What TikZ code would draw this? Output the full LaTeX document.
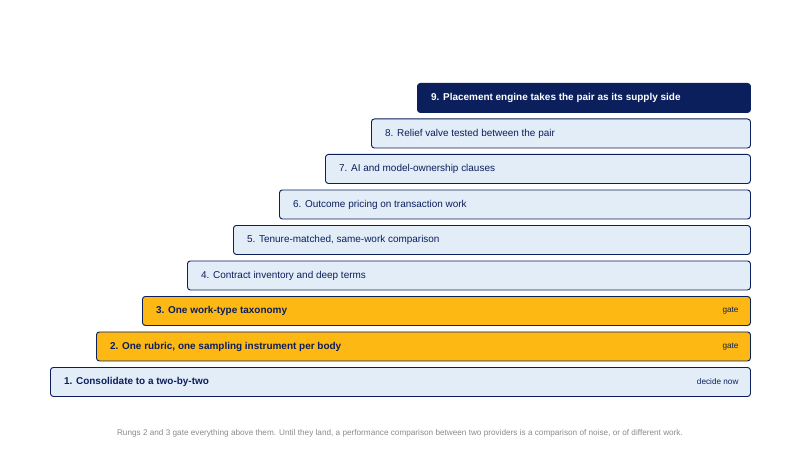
\documentclass[tikz,border=0pt]{standalone}
\usepackage{fontspec}
\setmainfont{Liberation Sans}
\usetikzlibrary{positioning}
\definecolor{navy}{HTML}{0B1F5C}
\definecolor{pale}{HTML}{E3EDF8}
\definecolor{amber}{HTML}{FDB813}
\definecolor{note}{HTML}{8A8A8A}
\begin{document}
\begin{tikzpicture}[x=0.03cm,y=-0.03cm,
   rung/.style={draw=navy,line width=0.8pt,rounded corners=2.5pt,fill=pale,
     anchor=north west,inner sep=0pt,minimum height=0.87cm},
   gate/.style={rung,fill=amber},
   top/.style={rung,fill=navy},
   txt/.style={anchor=west,font=\fontsize{8.5}{10}\selectfont,text=navy},
   tag/.style={anchor=east,font=\fontsize{7}{8}\selectfont,text=navy}]
   \useasboundingbox (0,0) rectangle (800,450);

   % rungs: index / left edge / style / label / tag
   \foreach \i/\x/\s/\lab/\tg in {
      1/50/rung/{\textbf{1. Consolidate to a two-by-two}}/{decide now},
      2/96/gate/{\textbf{2. One rubric, one sampling instrument per body}}/gate,
      3/142/gate/{\textbf{3. One work-type taxonomy}}/gate,
      4/187/rung/{4. Contract inventory and deep terms}/{},
      5/233/rung/{5. Tenure-matched, same-work comparison}/{},
      6/279/rung/{6. Outcome pricing on transaction work}/{},
      7/325/rung/{7. AI and model-ownership clauses}/{},
      8/371/rung/{8. Relief valve tested between the pair}/{}}{
     \pgfmathsetmacro{\yy}{367-35.5*(\i-1)}
     \node[\s,minimum width={(750-\x)*0.03cm}] (r\i) at (\x,\yy) {};
     \node[txt] (l\i) at ([xshift=0.3cm]r\i.west) {\lab};
     \node[tag] (t\i) at ([xshift=-0.25cm]r\i.east) {\tg};
   }
   \node[top,minimum width={(750-417)*0.03cm}] (r9) at (417,83) {};
   \node[txt,text=white] (l9) at ([xshift=0.3cm]r9.west)
     {\textbf{9. Placement engine takes the pair as its supply side}};

   \node[font=\fontsize{7}{8}\selectfont,text=note] (foot) at (400,433)
     {Rungs 2 and 3 gate everything above them. Until they land, a performance comparison between two providers is a comparison of noise, or of different work.};
\end{tikzpicture}
\end{document}
